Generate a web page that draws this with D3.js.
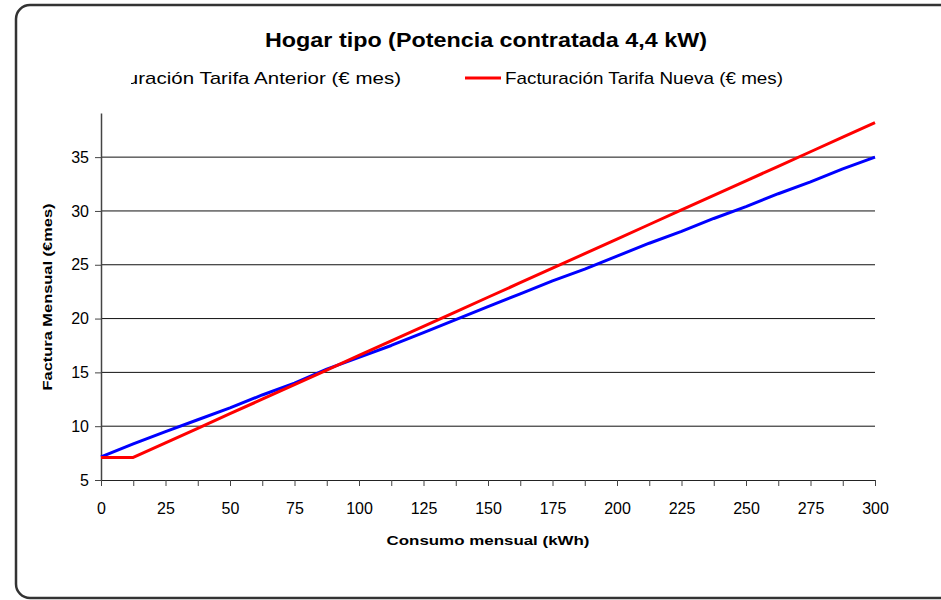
<!DOCTYPE html>
<html>
<head>
<meta charset="utf-8">
<script src="https://cdn.jsdelivr.net/npm/d3@7"></script>
<style>
  body { margin: 0; background: #fff; }
  svg { display: block; font-family: "Liberation Sans", Arial, sans-serif; }
</style>
</head>
<body>
<svg id="chart"></svg>
<script>
// consumo mensual (kWh), un punto cada 12,5 kWh
const consumo = [0, 12.5, 25, 37.5, 50, 62.5, 75, 87.5, 100, 112.5, 125, 137.5, 150,
  162.5, 175, 187.5, 200, 212.5, 225, 237.5, 250, 262.5, 275, 287.5, 300];

// factura mensual (€/mes)
const tarifaAnterior = [7.14, 8.35, 9.5, 10.6, 11.7, 12.9, 14.0, 15.3, 16.4, 17.5, 18.7, 19.9, 21.1,
  22.3, 23.5, 24.6, 25.8, 27.0, 28.1, 29.3, 30.4, 31.6, 32.7, 33.9, 35.0];
const tarifaNueva = [7.1, 7.1, 8.45, 9.8, 11.16, 12.51, 13.86, 15.21, 16.57, 17.92, 19.27, 20.62, 21.98,
  23.33, 24.68, 26.03, 27.38, 28.74, 30.09, 31.44, 32.79, 34.15, 35.5, 36.85, 38.2];

const xTickLabels = [0, 25, 50, 75, 100, 125, 150, 175, 200, 225, 250, 275, 300];
const yTickLabels = [5, 10, 15, 20, 25, 30, 35];

const seriesNames = ["Facturación Tarifa Anterior (€ mes)", "Facturación Tarifa Nueva (€ mes)"];
const seriesColors = ["#0000ff", "#ff0000"];

const width = 941, height = 600;
const plot = { left: 101, right: 875, top: 113, bottom: 480 };

const svg = d3.select("#chart")
  .attr("width", width)
  .attr("height", height);

// marco redondeado
svg.append("rect")
  .attr("x", 16).attr("y", 5)
  .attr("width", 940).attr("height", 593)
  .attr("rx", 14)
  .attr("fill", "#fff")
  .attr("stroke", "#333")
  .attr("stroke-width", 2.5);

const x = d3.scaleLinear().domain([0, 300]).range([plot.left, plot.right]);
const y = d3.scaleLinear().domain([5, 39.1]).range([plot.bottom, plot.top]);

// lineas de cuadricula
svg.append("g")
  .selectAll("line")
  .data(yTickLabels.slice(1))
  .join("line")
  .attr("x1", plot.left).attr("x2", plot.right)
  .attr("y1", d => y(d)).attr("y2", d => y(d))
  .attr("stroke", "#111")
  .attr("stroke-width", 1);

// eje Y
const yAxis = svg.append("g")
  .attr("transform", `translate(${plot.left},0)`)
  .call(d3.axisLeft(y).tickValues(yTickLabels).tickSize(6).tickPadding(6).tickSizeOuter(0));
yAxis.select(".domain").attr("stroke", "#444").attr("stroke-width", 1.5);
yAxis.selectAll(".tick line").attr("stroke", "#444");
yAxis.selectAll(".tick text")
  .attr("font-size", 16)
  .attr("fill", "#000")
  .attr("font-family", "Liberation Sans, Arial, sans-serif");

// eje X (marcas cada 12,5, etiquetas cada 25)
const xAxis = svg.append("g")
  .attr("transform", `translate(0,${plot.bottom})`)
  .call(d3.axisBottom(x).tickValues(consumo).tickSize(6).tickPadding(17).tickSizeOuter(0)
    .tickFormat(d => xTickLabels.includes(d) ? d : ""));
xAxis.select(".domain").attr("stroke", "#222").attr("stroke-width", 1.2);
xAxis.selectAll(".tick line").attr("stroke", "#444");
xAxis.selectAll(".tick text")
  .attr("font-size", 16)
  .attr("fill", "#000")
  .attr("font-family", "Liberation Sans, Arial, sans-serif");

// series
const line = d3.line()
  .x((d, i) => x(consumo[i]))
  .y(d => y(d));

[tarifaAnterior, tarifaNueva].forEach((serie, i) => {
  svg.append("path")
    .datum(serie)
    .attr("fill", "none")
    .attr("stroke", seriesColors[i])
    .attr("stroke-width", 3)
    .attr("stroke-linejoin", "round")
    .attr("d", line);
});

// titulo
svg.append("text")
  .attr("x", 486).attr("y", 47)
  .attr("text-anchor", "middle")
  .attr("font-size", 20)
  .attr("font-weight", "bold")
  .attr("textLength", 442)
  .attr("lengthAdjust", "spacingAndGlyphs")
  .text("Hogar tipo (Potencia contratada 4,4 kW)");

// leyenda (recortada por la izquierda como en el original)
svg.append("clipPath").attr("id", "legend-clip")
  .append("rect").attr("x", 131).attr("y", 55).attr("width", 700).attr("height", 40);

const legend = svg.append("g").attr("clip-path", "url(#legend-clip)");
const legendItems = [
  { sx: 48, tx: 87, end: 401 },
  { sx: 465, tx: 505, end: 783 }
];
legendItems.forEach((it, i) => {
  legend.append("line")
    .attr("x1", it.sx).attr("x2", it.sx + 36)
    .attr("y1", 78).attr("y2", 78)
    .attr("stroke", seriesColors[i])
    .attr("stroke-width", 3);
  legend.append("text")
    .attr("x", it.tx).attr("y", 84)
    .attr("font-size", 17)
    .attr("textLength", it.end - it.tx)
    .attr("lengthAdjust", "spacingAndGlyphs")
    .text(seriesNames[i]);
});

// titulos de ejes
svg.append("text")
  .attr("x", 488).attr("y", 545)
  .attr("text-anchor", "middle")
  .attr("font-size", 13)
  .attr("font-weight", "bold")
  .attr("textLength", 203)
  .attr("lengthAdjust", "spacingAndGlyphs")
  .text("Consumo mensual (kWh)");

svg.append("text")
  .attr("transform", "translate(52,297) rotate(-90)")
  .attr("text-anchor", "middle")
  .attr("font-size", 13)
  .attr("font-weight", "bold")
  .attr("textLength", 187)
  .attr("lengthAdjust", "spacingAndGlyphs")
  .text("Factura Mensual (€mes)");
</script>
</body>
</html>
